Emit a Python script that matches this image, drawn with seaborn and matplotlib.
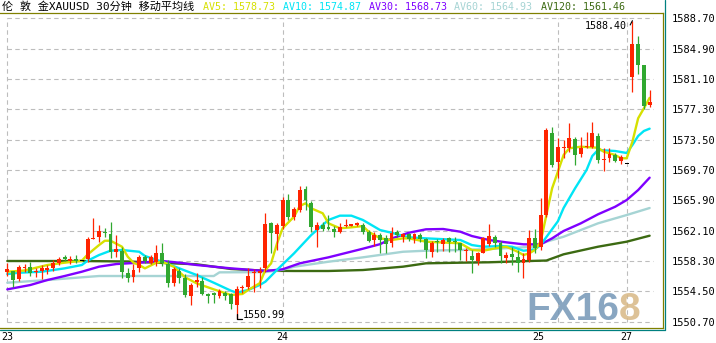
import matplotlib
matplotlib.use("Agg")
import matplotlib.pyplot as plt
import numpy as np
import pandas as pd
import seaborn as sns
from matplotlib.lines import Line2D

# ---------------- data ----------------
opens = [1556.91, 1557.04, 1556.07, 1557.37, 1557.54, 1556.91, 1557.00, 1557.16, 1557.45, 1558.08,
         1558.79, 1558.33, 1558.58, 1558.29, 1558.50, 1561.08, 1561.33, 1561.92, 1561.67, 1559.38,
         1559.58, 1556.75, 1556.25, 1557.37, 1558.75, 1558.08, 1558.20, 1559.33, 1557.91, 1555.57,
         1557.04, 1556.12, 1553.90, 1555.70, 1555.78, 1554.12, 1554.24, 1553.94, 1554.32, 1554.12,
         1552.78, 1554.91, 1554.99, 1556.82, 1556.82, 1557.37, 1563.01, 1561.67, 1562.67, 1565.93,
         1563.84, 1564.68, 1567.31, 1565.59, 1562.17, 1562.80, 1562.42, 1562.26, 1561.96, 1562.63,
         1562.67, 1562.80, 1562.80, 1561.96, 1560.92, 1561.55, 1561.13, 1560.51, 1561.96, 1561.33,
         1561.67, 1561.01, 1561.55, 1561.01, 1559.45, 1560.76, 1560.42, 1561.13, 1560.74, 1560.51,
         1559.54, 1558.92, 1558.33, 1559.33, 1560.42, 1561.26, 1560.51, 1558.63, 1559.17, 1558.83,
         1558.08, 1558.41, 1561.13, 1560.08, 1564.05, 1574.29, 1570.73, 1572.41, 1572.41, 1573.57,
         1571.66, 1572.57, 1572.61, 1573.99, 1570.94, 1571.23, 1571.57, 1570.85, 1570.40, 1581.30,
         1585.44, 1582.85, 1577.83]
highs = [1558.00, 1557.10, 1557.75, 1557.88, 1558.20, 1557.45, 1557.75, 1557.75, 1558.41, 1558.75,
         1559.00, 1558.92, 1559.04, 1558.29, 1561.33, 1563.64, 1562.80, 1562.39, 1563.21, 1561.55,
         1560.08, 1557.37, 1557.91, 1559.04, 1559.04, 1559.04, 1560.29, 1560.58, 1558.41, 1557.58,
         1557.37, 1556.66, 1555.57, 1556.75, 1556.32, 1554.32, 1554.45, 1554.74, 1554.53, 1554.24,
         1555.16, 1555.28, 1557.37, 1557.25, 1557.58, 1564.27, 1563.21, 1563.01, 1566.35, 1566.68,
         1565.09, 1567.69, 1567.72, 1565.84, 1563.21, 1563.14, 1564.05, 1562.67, 1563.09, 1563.51,
         1562.97, 1563.20, 1563.09, 1562.17, 1561.96, 1561.76, 1561.55, 1562.51, 1562.17, 1561.83,
         1561.83, 1561.83, 1561.76, 1561.13, 1560.83, 1561.01, 1561.13, 1561.33, 1561.33, 1560.58,
         1559.88, 1559.67, 1559.45, 1561.33, 1562.93, 1561.55, 1560.83, 1559.45, 1560.08, 1559.67,
         1559.25, 1562.17, 1562.26, 1566.14, 1574.92, 1575.12, 1573.66, 1573.45, 1575.54, 1573.86,
         1573.86, 1574.41, 1575.67, 1574.29, 1572.41, 1572.41, 1571.78, 1571.57, 1570.40, 1588.40,
         1586.52, 1582.85, 1579.71]
lows = [1556.41, 1554.99, 1555.75, 1556.91, 1556.41, 1556.25, 1556.07, 1556.66, 1557.00, 1557.75,
        1558.33, 1557.91, 1558.08, 1558.29, 1558.20, 1561.01, 1560.71, 1561.33, 1558.63, 1558.75,
        1556.12, 1555.70, 1555.70, 1556.95, 1558.00, 1557.91, 1557.66, 1557.66, 1555.07, 1555.16,
        1555.50, 1553.82, 1552.78, 1554.99, 1554.03, 1552.99, 1552.99, 1553.62, 1553.40, 1552.24,
        1550.99, 1554.32, 1554.74, 1554.45, 1554.87, 1556.95, 1559.25, 1559.67, 1562.26, 1563.43,
        1563.43, 1564.47, 1564.68, 1561.96, 1560.08, 1562.09, 1562.17, 1561.26, 1561.76, 1562.51,
        1562.63, 1562.70, 1561.67, 1560.71, 1560.17, 1559.25, 1559.33, 1560.08, 1561.33, 1560.71,
        1560.83, 1560.58, 1560.71, 1558.63, 1558.75, 1559.45, 1559.58, 1559.45, 1559.45, 1558.41,
        1558.33, 1556.82, 1557.79, 1559.25, 1560.17, 1560.01, 1558.08, 1558.00, 1557.79, 1556.95,
        1556.12, 1558.20, 1559.25, 1559.67, 1563.84, 1570.10, 1568.65, 1571.16, 1571.98, 1570.32,
        1571.36, 1572.41, 1572.41, 1570.53, 1569.60, 1570.73, 1570.73, 1570.40, 1570.40, 1579.50,
        1581.68, 1577.33, 1577.62]
closes = [1557.25, 1555.91, 1557.50, 1557.58, 1556.75, 1557.07, 1557.45, 1557.37, 1558.08, 1558.50,
          1558.54, 1558.54, 1558.29, 1558.29, 1561.01, 1561.21, 1562.05, 1561.76, 1559.45, 1559.75,
          1556.95, 1556.12, 1557.16, 1558.75, 1558.29, 1558.83, 1559.33, 1558.00, 1555.57, 1557.25,
          1556.12, 1554.03, 1555.28, 1555.91, 1554.12, 1553.94, 1554.07, 1554.57, 1553.90, 1552.86,
          1554.74, 1555.07, 1556.41, 1556.95, 1557.07, 1562.93, 1561.83, 1562.80, 1565.93, 1563.76,
          1564.77, 1567.18, 1565.93, 1562.51, 1562.80, 1562.30, 1562.35, 1561.96, 1562.59, 1562.71,
          1562.93, 1563.09, 1561.96, 1560.83, 1561.55, 1560.92, 1560.42, 1561.76, 1561.55, 1561.67,
          1561.01, 1561.67, 1561.01, 1559.67, 1560.58, 1560.67, 1560.92, 1560.71, 1560.67, 1559.67,
          1559.62, 1558.41, 1559.25, 1561.13, 1561.42, 1560.58, 1558.92, 1559.04, 1558.83, 1558.08,
          1558.50, 1561.13, 1559.88, 1564.05, 1574.70, 1570.32, 1572.61, 1572.54, 1573.66, 1571.57,
          1572.41, 1572.67, 1574.29, 1570.94, 1571.00, 1571.66, 1570.85, 1571.36, 1570.40, 1585.44,
          1582.85, 1577.75, 1578.17]

# moving-average lines, read at sample candles (candle index, price)
av5_idx = [0, 3, 7, 10, 13, 14, 16, 17, 18, 20, 21, 22, 23, 24, 26, 27, 29, 31, 33, 36, 39, 41, 42, 44,
           45, 46, 47, 48, 50, 51, 52, 53, 55, 56, 58, 60, 62, 63, 65, 67, 69, 70, 73, 79, 81, 83, 86,
           87, 89, 90, 91, 92, 93, 94, 95, 96, 97, 98, 100, 103, 104, 106, 107, 108, 109, 110, 111, 112]
av5_val = [1556.95, 1557.10, 1557.79, 1558.08, 1558.33, 1559.10, 1560.29, 1560.83, 1560.83, 1560.08,
           1558.83, 1558.08, 1557.79, 1557.37, 1558.08, 1558.20, 1557.58, 1556.25, 1555.50, 1554.74,
           1554.03, 1554.16, 1554.66, 1555.50, 1557.16, 1558.00, 1560.42, 1562.39, 1563.84, 1565.18,
           1565.52, 1564.89, 1564.27, 1563.01, 1562.39, 1562.51, 1562.67, 1561.96, 1561.13, 1560.92,
           1561.13, 1561.13, 1560.71, 1560.51, 1559.67, 1559.58, 1560.01, 1560.08, 1559.45, 1559.04,
           1559.25, 1559.67, 1560.71, 1564.05, 1567.40, 1569.47, 1571.57, 1572.41, 1572.61, 1572.48,
           1571.98, 1571.57, 1571.16, 1571.16, 1573.24, 1576.17, 1577.42, 1578.73]
av10_idx = [0, 2, 6, 8, 10, 13, 14, 16, 18, 20, 23, 24, 27, 30, 33, 36, 39, 40, 42, 44, 45, 47, 50, 53,
            56, 58, 60, 62, 65, 67, 70, 73, 79, 81, 83, 86, 88, 90, 92, 93, 94, 96, 97, 99, 101, 102,
            103, 106, 108, 109, 110, 111, 112]
av10_val = [1556.66, 1556.82, 1556.95, 1557.16, 1557.37, 1557.79, 1558.33, 1559.04, 1559.58, 1559.67,
            1559.45, 1558.92, 1558.20, 1557.37, 1556.54, 1555.57, 1554.57, 1554.32, 1554.66, 1555.28,
            1555.70, 1557.16, 1559.25, 1561.55, 1563.43, 1563.97, 1563.97, 1563.43, 1562.17, 1561.83,
            1561.26, 1561.13, 1560.92, 1560.29, 1560.08, 1560.17, 1560.08, 1559.58, 1559.75, 1560.29,
            1561.30, 1563.26, 1564.93, 1567.40, 1569.69, 1571.44, 1572.20, 1572.07, 1571.82, 1572.82,
            1573.95, 1574.58, 1574.87]
av30_idx = [0, 4, 7, 10, 13, 16, 19, 23, 27, 30, 33, 39, 45, 48, 51, 56, 62, 65, 67, 70, 73, 76, 79,
            81, 84, 87, 90, 93, 95, 97, 100, 103, 106, 108, 110, 112]
av30_val = [1554.74, 1555.28, 1555.91, 1556.41, 1556.95, 1557.58, 1557.91, 1558.08, 1558.29, 1558.08,
            1557.79, 1557.37, 1557.04, 1557.25, 1558.00, 1558.75, 1559.83, 1560.40, 1561.10, 1561.83,
            1562.26, 1562.30, 1561.96, 1561.42, 1560.92, 1560.63, 1560.38, 1560.38, 1561.13, 1562.05,
            1563.01, 1564.14, 1565.09, 1565.93, 1567.18, 1568.73]
av60_idx = [0, 7, 13, 16, 36, 37, 45, 48, 50, 56, 62, 69, 73, 79, 84, 90, 92, 94, 97, 103, 108, 112]
av60_val = [1555.57, 1555.91, 1556.25, 1556.41, 1556.41, 1556.87, 1556.90, 1557.20, 1557.57, 1558.20,
            1558.75, 1559.45, 1559.58, 1559.67, 1559.79, 1560.01, 1560.10, 1560.71, 1561.33, 1563.01,
            1564.05, 1564.93]
av120_idx = [0, 13, 21, 27, 33, 39, 45, 50, 56, 62, 69, 73, 79, 84, 91, 94, 97, 103, 108, 112]
av120_val = [1558.29, 1558.29, 1558.23, 1558.05, 1557.88, 1557.29, 1557.07, 1557.04, 1557.04, 1557.16,
             1557.58, 1558.00, 1558.08, 1558.13, 1558.29, 1558.35, 1559.13, 1560.08, 1560.71, 1561.46]

ma_names = ["AV5", "AV10", "AV30", "AV60", "AV120"]
ma_last = [1578.73, 1574.87, 1568.73, 1564.93, 1561.46]

y_ticks = [1550.70, 1554.50, 1558.30, 1562.10, 1565.90, 1569.70, 1573.50, 1577.30, 1581.10, 1584.90, 1588.70]
day_lines = [0, 48, 96, 108]
day_tick_pos = [0, 48, 92.5, 108]
day_labels = ["23", "24", "25", "27"]
title_text = "伦 敦 金XAUUSD 30分钟 移动平均线"

# ---------------- style ----------------
sns.set_theme(style="white")
plt.rcParams['font.family'] = ['DejaVu Sans Mono', 'Noto Sans CJK SC']
plt.rcParams['axes.unicode_minus'] = False

C_UP, C_DN = "#FF2400", "#30A830"
MA_COLORS = {"AV5": "#D6E000", "AV10": "#00E5F5", "AV30": "#7F00FF",
             "AV60": "#A6D4D4", "AV120": "#3C6A12"}
OLIVE, TEAL, GRID = "#808000", "#008080", "#BDBDBD"

W, H = 716, 343
fig = plt.figure(figsize=(W / 100, H / 100), dpi=100)
fig.patch.set_facecolor("white")
px_l, px_r, px_t, px_b = 0, 663, 13, 328.3
ax = fig.add_axes([px_l / W, 1 - px_b / H, (px_r - px_l) / W, (px_b - px_t) / H])
ax.set_facecolor("white")

step, x0 = 5.735, 7.3
ax.set_xlim(-x0 / step, (px_r - x0) / step)
ax.set_ylim(1549.86, 1589.36)

n = len(opens)
idx = np.arange(n)
o, h, l, c = map(np.array, (opens, highs, lows, closes))

# grid box
ax.hlines(y_ticks, day_lines[0], n - 0.4, colors=GRID, linewidth=0.8,
          linestyles=(0, (4, 3)), zorder=0.5)
ax.vlines(day_lines, min(y_ticks), max(y_ticks), colors=GRID, linewidth=0.8,
          linestyles=(0, (4, 3)), zorder=0.5)

# moving averages via seaborn
frames = []
for name, ii, vv in [("AV5", av5_idx, av5_val), ("AV10", av10_idx, av10_val),
                     ("AV30", av30_idx, av30_val), ("AV60", av60_idx, av60_val),
                     ("AV120", av120_idx, av120_val)]:
    frames.append(pd.DataFrame({"idx": ii, "val": vv, "ma": name}))
ma_df = pd.concat(frames, ignore_index=True)
sns.lineplot(data=ma_df, x="idx", y="val", hue="ma", hue_order=ma_names[::-1],
             palette=MA_COLORS, estimator=None, sort=True, legend=False,
             linewidth=1.7, ax=ax, zorder=2)

# candles
cols = np.where(c > o, C_UP, np.where(c < o, C_DN, "#000000"))
ax.vlines(idx, l, h, colors=cols, linewidth=0.9, zorder=3)
bottoms = np.minimum(o, c)
heights = np.maximum(np.abs(c - o), 0.14)
ax.bar(idx, heights, bottom=bottoms, width=0.68, color=cols, linewidth=0, zorder=4)

# high / low markers
ih = int(np.argmax(h))
ax.annotate(f"{h[ih]:.2f}", xy=(ih, h[ih]), xytext=(-4, -4), textcoords="offset points",
            ha="right", va="center", fontsize=7.2, color="black", zorder=6,
            arrowprops=dict(arrowstyle="-", color="black", lw=0.8, relpos=(1, 0),
                            shrinkA=0, shrinkB=0))
il = int(np.argmin(l))
ax.plot([il, il, il + 0.9], [l[il] + 0.65, l[il], l[il]], color="black", lw=0.9, zorder=6)
ax.text(il + 1.0, l[il] - 0.05, f"{l[il]:.2f}", ha="left", va="bottom", fontsize=7.2,
        color="black", zorder=6)

# watermark
ax.text(526 / 663, 0.025, "FX16", transform=ax.transAxes, fontsize=28, fontweight="bold",
        family="Liberation Sans", color="#7497B7", alpha=0.85, ha="left", va="baseline", zorder=1)
ax.text(619 / 663, 0.025, "8", transform=ax.transAxes, fontsize=28, fontweight="bold",
        family="Liberation Sans", color="#D8B885", alpha=0.85, ha="left", va="baseline", zorder=1)

# axes / ticks
ax.yaxis.tick_right()
ax.set_yticks(y_ticks)
ax.set_yticklabels([f"{v:.2f}" for v in y_ticks])
ax.set_xticks(day_tick_pos)
ax.set_xticklabels(day_labels)
ax.tick_params(axis="y", length=0, pad=6, labelsize=7.5, labelcolor="black")
ax.tick_params(axis="x", length=0, pad=3, labelsize=7.2, labelcolor="black")
ax.set_xlabel("")
ax.set_ylabel("")
ax.grid(False)
ax.spines["left"].set_visible(False)
for s in ("top", "bottom", "right"):
    ax.spines[s].set_color(OLIVE)
    ax.spines[s].set_linewidth(0.9)

# outer teal frame
fig.add_artist(Line2D([664.6 / W, 664.6 / W], [1 - 330.2 / H, 1], color=TEAL, lw=0.9,
                      transform=fig.transFigure))
fig.add_artist(Line2D([0, 664.6 / W], [1 - 330.2 / H, 1 - 330.2 / H], color=TEAL, lw=0.9,
                      transform=fig.transFigure))

# header line
fig.text(2 / W, 1 - 6.5 / H, title_text, fontsize=8, color="black", ha="left", va="center")
hdr_x = [203, 283, 369, 454, 541]
for name, val, xp in zip(ma_names, ma_last, hdr_x):
    fig.text(xp / W, 1 - 6.5 / H, f"{name}: {val:.2f}", fontsize=7.2, color=MA_COLORS[name],
             ha="left", va="center")

fig.savefig("out.png", dpi=100, facecolor="white")
